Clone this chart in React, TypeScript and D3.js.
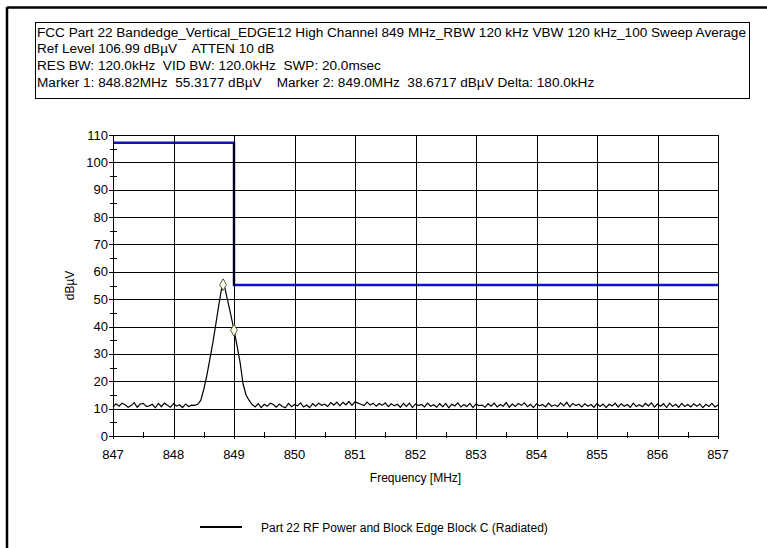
import { useEffect, useRef } from 'react';
import * as d3 from 'd3';

// header text lines
const HEADER_LINES = [
  "FCC Part 22 Bandedge_Vertical_EDGE12 High Channel 849 MHz_RBW 120 kHz VBW 120 kHz_100 Sweep Average",
  "Ref Level 106.99 dBµV    ATTEN 10 dB",
  "RES BW: 120.0kHz  VID BW: 120.0kHz  SWP: 20.0msec",
  "Marker 1: 848.82MHz  55.3177 dBµV    Marker 2: 849.0MHz  38.6717 dBµV Delta: 180.0kHz",
];

const X_TICKS = [847, 848, 849, 850, 851, 852, 853, 854, 855, 856, 857];
const Y_TICKS = [0, 10, 20, 30, 40, 50, 60, 70, 80, 90, 100, 110];

// sweep start / step (MHz)
const SWEEP_START = 847;
const SWEEP_STEP = 0.05;

// trace levels in dBµV, one per sweep point
const TRACE_LEVELS = [
  10.6, 11.8, 10.9, 12.0, 11.4, 10.5, 11.1, 12.2, 10.5, 11.7,
  11.9, 10.8, 11.0, 11.6, 10.3, 11.9, 10.7, 12.0, 11.2, 10.5,
  11.8, 10.9, 11.4, 10.4, 11.7, 10.8, 11.3,
  11.2, 11.6, 13, 17, 22, 28, 34, 41, 48, 54.5,
  54, 49, 44, 38.7, 33, 27, 19, 15, 13, 11.5,
  10.6, 11.8, 10.4, 11.6, 10.9, 12.0, 11.5, 10.5, 11.7, 10.8,
  10.3, 11.9, 10.7, 11.5, 11.0, 12.1, 10.6, 11.3, 10.4, 11.8,
  10.9, 12.0, 11.2, 11.6, 10.8, 12.2, 11.3, 12.4, 11.0, 12.3,
  11.4, 12.6, 11.2, 12.5, 12.0, 11.6, 11.1, 12.4, 11.3, 12.0,
  10.9, 11.9, 11.2, 12.1, 10.7, 11.8, 11.0, 11.6, 10.5, 11.9,
  10.8, 12.0, 10.4, 11.7, 11.1, 11.5, 10.6, 12.0, 10.9, 11.4,
  10.5, 11.8, 10.7, 11.9, 10.3, 11.6, 11.0, 12.1, 10.6, 11.5,
  10.8, 11.9, 10.4, 11.7, 11.1, 11.3, 10.5, 11.8, 10.9, 12.0,
  10.6, 11.5, 10.9, 12.2, 10.5, 11.7, 10.8, 11.9, 11.2, 12.1,
  10.7, 11.6, 10.4, 11.8, 11.0, 11.5, 10.6, 12.0, 10.9, 11.4,
  10.8, 12.1, 11.0, 12.3, 10.7, 11.9, 11.1, 11.6, 10.6, 11.8,
  10.9, 11.5, 10.5, 11.9, 10.8, 11.7, 10.4, 11.6, 11.0, 12.0,
  10.6, 11.8, 10.9, 11.5, 10.5, 12.0, 10.8, 11.4, 10.7, 11.9,
  11.0, 12.1, 10.6, 11.7, 10.9, 11.8, 10.4, 12.0, 10.8, 11.6,
  10.5, 11.9, 10.8, 11.5, 10.6, 11.8, 10.9, 11.7, 10.4, 11.6,
  10.8, 11.9, 10.6, 11.3,
];

// marker points [MHz, dBµV]
const MARKERS: [number, number][] = [
  [848.82, 55.3177],
  [849.0, 38.6717],
];

// limit line corners [MHz, dBµV]
const LIMIT_POINTS: [number, number][] = [
  [847, 107.2],
  [849, 107.2],
  [849, 55.2],
  [857, 55.2],
];

const WIDTH = 767;
const HEIGHT = 548;
const FONT = "'Liberation Sans', Arial, sans-serif";

export default function App() {
  const svgRef = useRef<SVGSVGElement>(null);

  useEffect(() => {
    if (!svgRef.current) return;
    const svg = d3.select(svgRef.current);
    svg.selectAll("*").remove();

    svg.append("rect").attr("width", WIDTH).attr("height", HEIGHT).attr("fill", "#fff");

    // outer frame (top + left edges)
    svg.append("line").attr("x1", 7).attr("x2", WIDTH).attr("y1", 7.5).attr("y2", 7.5)
      .attr("stroke", "#000").attr("stroke-width", 2.5);
    svg.append("line").attr("x1", 7).attr("x2", 7).attr("y1", 7).attr("y2", HEIGHT)
      .attr("stroke", "#000").attr("stroke-width", 2.5);

    // header box
    svg.append("rect")
      .attr("x", 35.5).attr("y", 22.5).attr("width", 714).attr("height", 76)
      .attr("fill", "#fff").attr("stroke", "#000").attr("stroke-width", 1);

    const header = svg.append("g")
      .selectAll("text")
      .data(HEADER_LINES)
      .enter()
      .append("text")
      .attr("x", 37)
      .attr("y", (_, i) => 36.5 + i * 16.8)
      .attr("font-family", FONT)
      .attr("font-size", 12.5)
      .attr("fill", "#000")
      .style("white-space", "pre")
      .text(d => d);

    // stretch all lines by the same factor so the first one fills the box
    const nodes = header.nodes() as SVGTextElement[];
    const natural = nodes.map(n => n.getComputedTextLength());
    const k = natural[0] > 0 ? 709 / natural[0] : 1;
    header
      .attr("textLength", (_, i) => natural[i] * k)
      .attr("lengthAdjust", "spacingAndGlyphs");

    const margin = { left: 113, right: WIDTH - 718, top: 135, bottom: HEIGHT - 436 };
    const innerW = WIDTH - margin.left - margin.right;
    const innerH = HEIGHT - margin.top - margin.bottom;

    const x = d3.scaleLinear().domain([847, 857]).range([0, innerW]);
    const y = d3.scaleLinear().domain([0, 110]).range([innerH, 0]);

    const g = svg.append("g").attr("transform", `translate(${margin.left},${margin.top})`);

    // limit line
    const lim = d3.line<[number, number]>().x(d => x(d[0])).y(d => y(d[1]));
    g.append("path")
      .attr("d", lim(LIMIT_POINTS))
      .attr("fill", "none")
      .attr("stroke", "#1010c8")
      .attr("stroke-width", 2.5);
    g.append("line")
      .attr("x1", x(LIMIT_POINTS[1][0])).attr("x2", x(LIMIT_POINTS[2][0]))
      .attr("y1", y(LIMIT_POINTS[1][1])).attr("y2", y(LIMIT_POINTS[2][1]))
      .attr("stroke", "#000").attr("stroke-width", 2);

    // grid
    g.append("g")
      .selectAll("line")
      .data(Y_TICKS)
      .enter()
      .append("line")
      .attr("x1", -4).attr("x2", innerW)
      .attr("y1", d => Math.round(y(d)) + 0.5).attr("y2", d => Math.round(y(d)) + 0.5)
      .attr("stroke", "#000").attr("stroke-width", 1);
    g.append("g")
      .selectAll("line")
      .data(X_TICKS)
      .enter()
      .append("line")
      .attr("y1", 0).attr("y2", innerH + 3)
      .attr("x1", d => Math.round(x(d)) + 0.5).attr("x2", d => Math.round(x(d)) + 0.5)
      .attr("stroke", "#000").attr("stroke-width", 1);

    // minor ticks
    const yMinor = d3.range(5, 110, 10);
    g.append("g")
      .selectAll("line")
      .data(yMinor)
      .enter()
      .append("line")
      .attr("x1", -3).attr("x2", 4)
      .attr("y1", d => Math.round(y(d)) + 0.5).attr("y2", d => Math.round(y(d)) + 0.5)
      .attr("stroke", "#000");
    const xMinor = d3.range(847.5, 857, 1);
    g.append("g")
      .selectAll("line")
      .data(xMinor)
      .enter()
      .append("line")
      .attr("y1", innerH - 4).attr("y2", innerH + 2)
      .attr("x1", d => Math.round(x(d)) + 0.5).attr("x2", d => Math.round(x(d)) + 0.5)
      .attr("stroke", "#000");

    // tick labels
    g.append("g")
      .selectAll("text")
      .data(Y_TICKS)
      .enter()
      .append("text")
      .attr("x", -5)
      .attr("y", d => y(d) + 4.5)
      .attr("text-anchor", "end")
      .attr("font-family", FONT)
      .attr("font-size", 13)
      .text(d => d);
    g.append("g")
      .selectAll("text")
      .data(X_TICKS)
      .enter()
      .append("text")
      .attr("x", d => x(d))
      .attr("y", innerH + 23)
      .attr("text-anchor", "middle")
      .attr("font-family", FONT)
      .attr("font-size", 13)
      .text(d => d);

    // axis titles
    g.append("text")
      .attr("transform", `translate(-39,${innerH / 2}) rotate(-90)`)
      .attr("text-anchor", "middle")
      .attr("font-family", FONT)
      .attr("font-size", 12)
      .text("dBµV");
    g.append("text")
      .attr("x", innerW / 2)
      .attr("y", innerH + 46)
      .attr("text-anchor", "middle")
      .attr("font-family", FONT)
      .attr("font-size", 12)
      .text("Frequency [MHz]");

    // trace
    const pts: [number, number][] = TRACE_LEVELS.map((v, i) => [SWEEP_START + i * SWEEP_STEP, v]);
    pts.push(MARKERS[0]);
    pts.sort((a, b) => a[0] - b[0]);
    const line = d3.line<[number, number]>().x(d => x(d[0])).y(d => y(d[1]));
    g.append("path")
      .attr("d", line(pts))
      .attr("fill", "none")
      .attr("stroke", "#000")
      .attr("stroke-width", 1.2);

    // markers
    const diamond = d3.symbol().type(d3.symbolDiamond).size(40);
    g.append("g")
      .selectAll("path")
      .data(MARKERS)
      .enter()
      .append("path")
      .attr("d", diamond)
      .attr("transform", d => `translate(${x(d[0])},${y(d[1])})`)
      .attr("fill", "#fffff0")
      .attr("stroke", "#555533")
      .attr("stroke-width", 1);

    // legend
    svg.append("line")
      .attr("x1", 200).attr("x2", 242).attr("y1", 527).attr("y2", 527)
      .attr("stroke", "#000").attr("stroke-width", 2);
    svg.append("text")
      .attr("x", 261)
      .attr("y", 531.5)
      .attr("font-family", FONT)
      .attr("font-size", 12)
      .text("Part 22 RF Power and Block Edge Block C (Radiated)");
  }, []);

  return (
    <svg
      ref={svgRef}
      width={WIDTH}
      height={HEIGHT}
      style={{ position: "absolute", left: 0, top: 0, display: "block" }}
    />
  );
}
